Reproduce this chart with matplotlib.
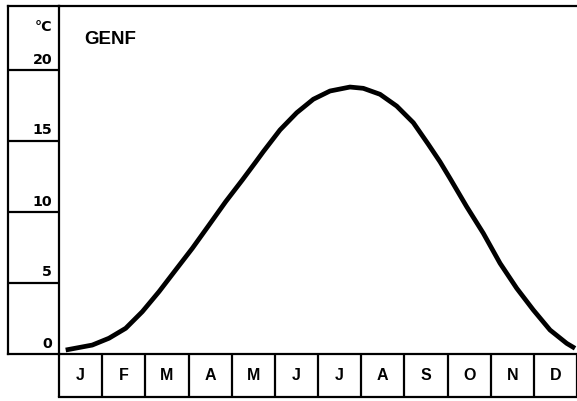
import matplotlib
matplotlib.use("Agg")
import matplotlib.pyplot as plt

plt.rcParams['font.family'] = ['Liberation Sans', 'DejaVu Sans']

# data (month position 0..12, temperature °C)
curve_month = [0.155, 0.771, 1.158, 1.545, 1.930, 2.317, 2.703, 3.088, 3.475, 3.862, 4.246,
               4.557, 4.733, 5.120, 5.507, 5.891, 6.278, 6.741, 7.049, 7.436, 7.823, 8.208,
               8.555, 8.826, 9.058, 9.445, 9.830, 10.217, 10.603, 10.988, 11.375, 11.761, 11.954]
curve_temp = [0.28, 0.63, 1.11, 1.81, 2.98, 4.39, 5.92, 7.44, 9.08, 10.73, 12.25,
              13.52, 14.25, 15.78, 16.99, 17.94, 18.52, 18.80, 18.71, 18.29, 17.46, 16.29,
              14.77, 13.54, 12.37, 10.37, 8.50, 6.39, 4.63, 3.10, 1.69, 0.75, 0.40]
months = ['J', 'F', 'M', 'A', 'M', 'J', 'J', 'A', 'S', 'O', 'N', 'D']
y_ticks = [0, 5, 10, 15, 20]
title = 'GENF'
unit = '°C'

W, H = 577, 401
fig = plt.figure(figsize=(W / 100, H / 100), dpi=100)
L, R, T, B = 59, 577, 6, 354
ax = fig.add_axes([L / W, (H - B) / H, (R - L) / W, (B - T) / H])
ppd = 14.2
ppm = (R - L) / 12
ax.set_xlim(0, 12)
ax.set_ylim(0, (B - T) / ppd)

ax.plot(curve_month, curve_temp, color='black', lw=3.4, solid_capstyle='butt',
        solid_joinstyle='round', clip_on=False)

lw = 1.6
ax.spines['right'].set_visible(False)
for s in ['left', 'top', 'bottom']:
    ax.spines[s].set_linewidth(lw)

# y ticks as lines through the left column
ax.set_yticks(y_ticks[1:])
ax.tick_params(axis='y', direction='out', length=51 * 72 / 100, width=lw, labelleft=False)
for v in y_ticks:
    ax.text(-7 / ppm, v + 3.5 / ppd, str(v), ha='right', va='bottom', fontsize=10.3,
            fontweight='bold', family=['DejaVu Sans'])
ax.text(-7 / ppm, (B - 27) / ppd, unit, ha='right', va='center', fontsize=10.3,
        fontweight='bold', family=['DejaVu Sans'])

# month boxes
ax.set_xticks(range(13))
ax.tick_params(axis='x', direction='out', length=43 * 72 / 100, width=lw, labelbottom=False)
for i, m in enumerate(months):
    ax.text(i + 0.5, -22 / ppd, m, ha='center', va='center', fontsize=11.5, fontweight='bold')

# extra frame lines
def fl(x0, y0, x1, y1):
    fig.add_artist(plt.Line2D([x0 / W, x1 / W], [1 - y0 / H, 1 - y1 / H], color='black', lw=lw,
                              solid_capstyle='projecting'))

fl(8, T, L, T)       # top of left column
fl(8, T, 8, B)       # left edge
fl(8, B, L, B)       # bottom of left column
fl(L, 397, R, 397)   # bottom of month row

ax.text(25 / ppm, (B - 40) / ppd, title, ha='left', va='center', fontsize=13.5, fontweight='bold')

fig.savefig('out.png', dpi=100)
